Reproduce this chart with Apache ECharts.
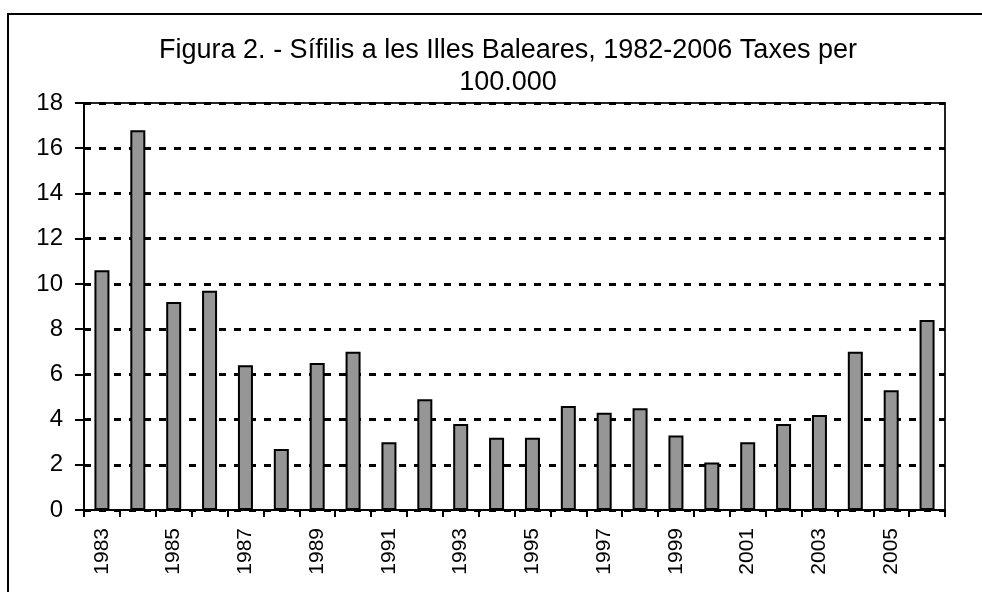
<!DOCTYPE html>
<html>
<head>
<meta charset="utf-8">
<script src="https://cdn.jsdelivr.net/npm/echarts@6/dist/echarts.min.js"></script>
<style>
html,body{margin:0;padding:0;background:#fff;}
#chart{width:982px;height:592px;}
</style>
</head>
<body>
<div id="chart"></div>
<script>
const titleText = "Figura 2. - Sífilis a les Illes Baleares, 1982-2006 Taxes per\n100.000";
const years = ["1983","1984","1985","1986","1987","1988","1989","1990","1991","1992","1993","1994","1995","1996","1997","1998","1999","2000","2001","2002","2003","2004","2005","2006"];
const rates = [10.6,16.8,9.2,9.7,6.4,2.7,6.5,7.0,3.0,4.9,3.8,3.2,3.2,4.6,4.3,4.5,3.3,2.1,3.0,3.8,4.2,7.0,5.3,8.4];
const yMin = 0, yMax = 18, yStep = 2;

const font = "'Liberation Sans', Arial, sans-serif";
const chart = echarts.init(document.getElementById('chart'), null, {renderer:'canvas'});
chart.setOption({
  animation: false,
  backgroundColor: '#fff',
  graphic: [{
    type: 'rect',
    shape: {x: 8, y: 14, width: 990, height: 600},
    style: {fill: 'none', stroke: '#000', lineWidth: 2},
    silent: true, z: 0
  }],
  title: {
    text: titleText,
    left: 503,
    top: 30,
    textAlign: 'center',
    textStyle: {fontFamily: font, fontSize: 27, fontWeight: 'normal', color: '#000', lineHeight: 32}
  },
  grid: {
    left: 84, right: 37, top: 103, bottom: 82,
    show: true, borderColor: '#222', borderWidth: 2, backgroundColor: 'transparent'
  },
  xAxis: {
    type: 'category',
    data: years,
    boundaryGap: true,
    axisLine: {lineStyle: {color: '#000', width: 2}},
    axisTick: {show: true, interval: 0, length: 7, lineStyle: {color: '#000', width: 2}},
    axisLabel: {interval: 1, rotate: 90, margin: 18, fontFamily: font, fontSize: 21, color: '#000'},
    splitLine: {show: false}
  },
  yAxis: {
    type: 'value',
    min: yMin, max: yMax, interval: yStep,
    axisLine: {show: true, lineStyle: {color: '#000', width: 2}},
    axisTick: {show: true, length: 9, lineStyle: {color: '#000', width: 2}},
    axisLabel: {margin: 21, fontFamily: font, fontSize: 24, color: '#000'},
    splitLine: {show: true, lineStyle: {color: '#000', width: 3, type: [7, 8]}}
  },
  series: [{
    type: 'bar',
    data: rates,
    barWidth: 15,
    itemStyle: {color: '#969696', borderColor: '#000', borderWidth: 2}
  }]
});
</script>
</body>
</html>
